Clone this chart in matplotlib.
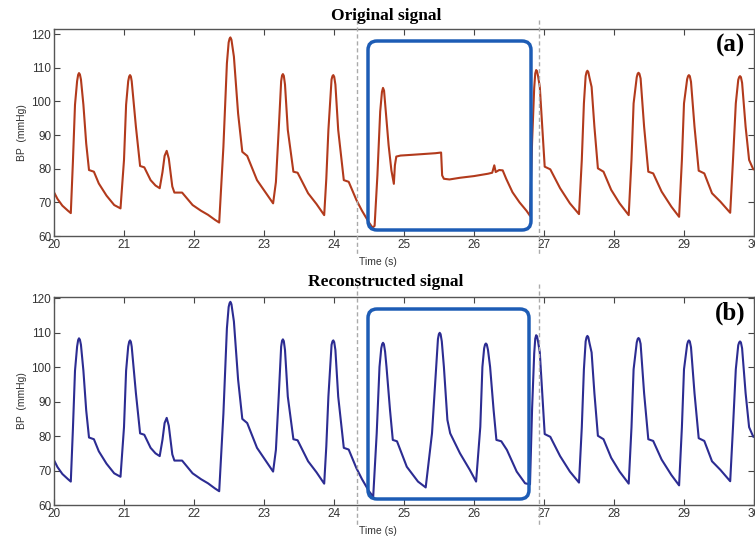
import matplotlib.pyplot as plt
from matplotlib.patches import FancyBboxPatch
from matplotlib.lines import Line2D

# beats outside the highlighted window are the same in both signals
t_before = [20.00, 20.05, 20.12, 20.20, 20.24, 20.27, 20.30, 20.33, 20.345, 20.357, 20.37, 20.385,
            20.42, 20.46, 20.50, 20.57, 20.64, 20.75, 20.86, 20.95, 21.00, 21.03, 21.06, 21.074,
            21.086, 21.098, 21.11, 21.17, 21.23, 21.29, 21.38, 21.45, 21.51, 21.55, 21.58, 21.61,
            21.64, 21.69, 21.72, 21.83, 21.98, 22.10, 22.20, 22.30, 22.36, 22.42, 22.47, 22.495,
            22.508, 22.52, 22.535, 22.57, 22.63, 22.69, 22.76, 22.90, 23.02, 23.13, 23.17, 23.21,
            23.245, 23.258, 23.27, 23.283, 23.30, 23.34, 23.42, 23.48, 23.63, 23.75, 23.86, 23.89,
            23.92, 23.965, 23.978, 23.99, 24.003, 24.02, 24.06, 24.14, 24.21, 24.32, 24.40, 24.50]
bp_before = [73.0, 71.0, 69.0, 67.5, 66.8, 82.0, 99.0, 106.0, 107.9, 108.4, 108.0, 106.5,
             99.0, 87.5, 79.6, 79.1, 75.6, 72.0, 69.2, 68.2, 82.6, 99.0, 106.0, 107.4,
             107.8, 107.4, 106.0, 92.5, 80.8, 80.4, 76.6, 75.0, 74.2, 79.0, 83.8, 85.3,
             83.0, 74.7, 72.9, 72.9, 69.2, 67.5, 66.3, 64.8, 64.0, 86.5, 111.3, 117.5,
             118.6, 119.0, 118.3, 113.3, 96.4, 85.0, 83.8, 76.6, 73.0, 69.7, 76.0, 91.5,
             106.0, 107.7, 108.1, 107.6, 105.0, 91.5, 79.1, 78.8, 72.7, 69.5, 66.2, 77.0,
             91.5, 106.5, 107.5, 107.8, 107.3, 105.0, 91.5, 76.6, 76.1, 70.7, 67.5, 64.0]

t_after = [26.80, 26.83, 26.86, 26.875, 26.888, 26.90, 26.915, 26.94, 27.01, 27.09, 27.23, 27.37,
           27.50, 27.54, 27.57, 27.595, 27.608, 27.62, 27.633, 27.65, 27.68, 27.72, 27.77, 27.85,
           27.96, 28.08, 28.21, 28.25, 28.28, 28.325, 28.338, 28.35, 28.363, 28.38, 28.43, 28.49,
           28.56, 28.68, 28.82, 28.93, 28.97, 29.00, 29.045, 29.058, 29.07, 29.083, 29.10, 29.15,
           29.21, 29.29, 29.40, 29.52, 29.66, 29.70, 29.74, 29.775, 29.788, 29.80, 29.813, 29.83,
           29.88, 29.93, 29.99, 30.00]
bp_after = [66.0, 88.0, 104.0, 108.3, 109.3, 109.0, 107.5, 104.3, 80.6, 79.8, 74.2, 69.7,
            66.5, 82.6, 99.4, 107.5, 108.7, 109.1, 108.7, 107.0, 104.3, 92.5, 80.1, 79.1,
            73.7, 69.7, 66.2, 82.6, 99.4, 107.2, 108.2, 108.5, 108.2, 106.8, 92.5, 79.1,
            78.6, 73.2, 68.7, 65.7, 82.6, 99.4, 106.6, 107.5, 107.8, 107.5, 105.8, 92.5,
            79.4, 78.6, 72.7, 70.2, 66.9, 82.6, 99.4, 106.4, 107.2, 107.5, 107.2, 105.5,
            92.5, 82.6, 79.8, 79.8]

# corrupted segment in the original recording
t_orig_gap = [24.55, 24.58, 24.62, 24.66, 24.685, 24.70, 24.715, 24.74, 24.78, 24.82, 24.855, 24.87,
              24.89, 24.95, 25.10, 25.30, 25.45, 25.53, 25.545, 25.57, 25.65, 25.80, 26.00, 26.20,
              26.26, 26.29, 26.31, 26.36, 26.41, 26.46, 26.55, 26.65, 26.75]
bp_orig_gap = [62.5, 63.0, 78.0, 97.0, 102.8, 104.0, 103.2, 97.0, 87.0, 79.5, 75.5, 81.0,
               83.6, 83.9, 84.1, 84.4, 84.6, 84.8, 78.0, 77.0, 76.8, 77.3, 77.8, 78.5,
               78.8, 81.0, 79.0, 79.6, 79.5, 77.0, 73.0, 70.0, 67.5]

# reconstructed segment
t_rec_gap = [24.56, 24.61, 24.65, 24.675, 24.688, 24.70, 24.713, 24.73, 24.75, 24.80, 24.84, 24.90,
             25.04, 25.20, 25.31, 25.40, 25.46, 25.485, 25.498, 25.51, 25.523, 25.54, 25.57, 25.62,
             25.66, 25.80, 25.94, 26.03, 26.09, 26.12, 26.145, 26.158, 26.17, 26.183, 26.20, 26.23,
             26.28, 26.32, 26.39, 26.47, 26.61, 26.73]
bp_rec_gap = [62.4, 80.8, 100.1, 105.5, 106.7, 107.1, 106.7, 104.5, 100.1, 87.6, 78.9, 78.5,
              71.1, 66.8, 65.1, 80.8, 100.1, 108.2, 109.6, 110.0, 109.6, 107.5, 100.1, 84.7,
              80.8, 75.0, 70.2, 66.8, 82.7, 100.1, 105.5, 106.6, 106.9, 106.6, 105.0, 100.1,
              87.6, 78.9, 78.5, 76.0, 69.7, 66.3]

t_orig = t_before + t_orig_gap + t_after
bp_orig = bp_before + bp_orig_gap + bp_after
t_rec = t_before + t_rec_gap + t_after
bp_rec = bp_before + bp_rec_gap + bp_after

xticks = list(range(20, 31))
yticks = [60, 70, 80, 90, 100, 110, 120]

plt.rcParams['font.family'] = ['Liberation Sans', 'DejaVu Sans']

fig = plt.figure(figsize=(7.55, 5.40), dpi=100)
W, H = 755.0, 540.0

def px_ax(x0, y0, x1, y1):
    return [x0 / W, 1 - y1 / H, (x1 - x0) / W, (y1 - y0) / H]

ax1 = fig.add_axes(px_ax(54, 29, 754, 236))
ax2 = fig.add_axes(px_ax(54, 297, 754, 505))

panels = [(ax1, t_orig, bp_orig, '#b23a1c', 121.5, '(a)'),
          (ax2, t_rec, bp_rec, '#2c2c92', 120.4, '(b)')]

for ax, t, bp, col, ytop, tag in panels:
    ax.plot(t, bp, color=col, lw=1.5, solid_joinstyle='round')
    ax.set_xlim(20, 30)
    ax.set_ylim(60, ytop)
    ax.set_xticks(xticks)
    ax.set_yticks(yticks)
    ax.tick_params(direction='in', top=True, right=True, length=4, width=0.8,
                   labelsize=8.5, labelcolor='#333333', color='#444444', pad=2)
    for s in ax.spines.values():
        s.set_color('#555555')
        s.set_linewidth(1.0)
    ax.set_ylabel('BP  (mmHg)', fontsize=7.5, color='#333333', labelpad=3)
    ax.text(0.988, 0.92, tag, transform=ax.transAxes, ha='right', va='center',
            fontsize=18, fontweight='bold', family='Liberation Serif')

fig.text(386 / W, 1 - 16 / H, 'Original signal', ha='center', va='center',
         fontsize=12.5, fontweight='bold', family='Liberation Serif')
fig.text(386 / W, 1 - 282 / H, 'Reconstructed signal', ha='center', va='center',
         fontsize=12.5, fontweight='bold', family='Liberation Serif')
fig.text(378 / W, 1 - 262 / H, 'Time (s)', ha='center', va='center', fontsize=7.5, color='#333333')
fig.text(378 / W, 1 - 531 / H, 'Time (s)', ha='center', va='center', fontsize=7.5, color='#333333')

# dashed markers around the missing segment
for x in [357, 539]:
    for y0, y1 in [(20, 256), (284, 526)]:
        fig.add_artist(Line2D([x / W, x / W], [1 - y0 / H, 1 - y1 / H], transform=fig.transFigure,
                              color='#aaaaaa', lw=1.0, ls=(0, (3, 2))))

# highlight boxes
for x0, y0, x1, y1 in [(368, 41, 531, 230), (368, 309, 529, 499)]:
    fig.add_artist(FancyBboxPatch((x0 / W, 1 - y1 / H), (x1 - x0) / W, (y1 - y0) / H,
                                  boxstyle='round,pad=0,rounding_size=0.012',
                                  mutation_aspect=W / H, transform=fig.transFigure,
                                  fill=False, edgecolor='#1d5cb5', lw=2.5))

fig.savefig('out.png', dpi=100)
